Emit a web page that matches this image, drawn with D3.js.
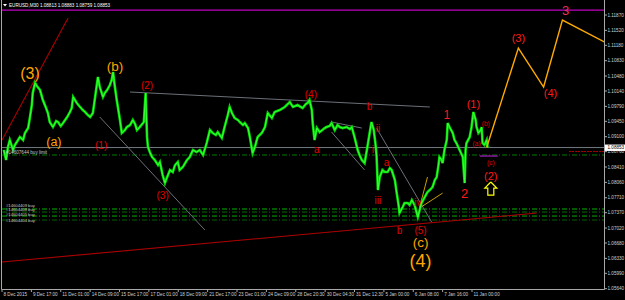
<!DOCTYPE html>
<html><head><meta charset="utf-8">
<script src="https://cdn.jsdelivr.net/npm/d3@7"></script>
<style>body{margin:0;background:#000;overflow:hidden}</style>
</head><body>
<script>
// ---------- DATA ----------
const titleText = "EURUSD,M30  1.08813 1.08883 1.08759 1.08853";
const timeLabels = ["8 Dec 2015","9 Dec 17:00","11 Dec 01:00","14 Dec 09:00","15 Dec 17:00","17 Dec 01:00","18 Dec 09:00","21 Dec 17:00","23 Dec 01:00","24 Dec 09:00","28 Dec 20:30","30 Dec 04:30","31 Dec 12:30","5 Jan 00:00","6 Jan 08:00","7 Jan 16:00","11 Jan 00:00"];
const barsPerLabel = 64;
const priceTicks = [1.11870,1.11520,1.11180,1.10830,1.10480,1.10140,1.09790,1.09450,1.09100,1.08760,1.08410,1.08060,1.07710,1.07370,1.07020,1.06680,1.06330,1.05990,1.05640];
const bidPrice = 1.08853;

// price path (bar index, price)
const priceBars = [4,9,13,17,24,28,35,39,46,50,57,61,65,67,72,76,83,89,96,100,104,111,118,122,128,133,142,148,152,155,159,163,170,176,181,187,192,198,202,209,213,220,224,229,235,239,242,246,250,257,261,268,272,279,285,290,294,300,309,313,316,318,322,327,333,340,344,350,355,359,366,372,377,383,387,394,403,409,416,424,431,438,446,453,459,466,470,479,485,492,496,501,507,514,518,525,529,536,540,546,551,557,566,573,579,588,594,605,616,627,634,644,655,662,666,670,675,677,681,686,692,698,703,707,714,718,725,731,736,742,751,758,762,768,775,779,784,790,795,801,805,810,814,816,819,823,829,834,840,845,849,856,860,864,866,873,877,884,888,893,899,906,910,914,921,927,932,938,943,947,951,953,958,960,964,969,971,975,982,986,990,997,1004,1008,1010,1012,1019,1023,1027,1032,1034,1038,1043,1045,1047,1051,1056,1058];
const priceValues = [1.08797,1.08569,1.08865,1.09024,1.08797,1.08910,1.09024,1.09093,1.09024,1.09184,1.09297,1.09548,1.09821,1.10094,1.10322,1.10254,1.10162,1.09935,1.09753,1.09639,1.09434,1.09320,1.09457,1.09434,1.09343,1.09411,1.09548,1.09662,1.09753,1.10003,1.09935,1.09867,1.09776,1.09707,1.09662,1.09593,1.09548,1.09639,1.09935,1.10458,1.10231,1.10003,1.10094,1.10162,1.10276,1.10390,1.10572,1.10231,1.09935,1.09480,1.09184,1.09252,1.09320,1.09366,1.09480,1.09389,1.09252,1.09320,1.09434,1.10094,1.09093,1.08865,1.08751,1.08637,1.08569,1.08454,1.08523,1.08227,1.08045,1.08158,1.08341,1.08295,1.08454,1.08523,1.08341,1.08409,1.08569,1.08637,1.08797,1.08751,1.08797,1.08683,1.08956,1.09252,1.09184,1.09138,1.09206,1.09070,1.09320,1.09593,1.09776,1.09639,1.09525,1.09480,1.09434,1.09366,1.09411,1.09297,1.09093,1.08728,1.08865,1.09093,1.09184,1.09320,1.09639,1.09525,1.09662,1.09707,1.09776,1.09889,1.09776,1.09821,1.09753,1.09844,1.09867,1.09935,1.09707,1.09411,1.09024,1.09297,1.09206,1.09252,1.09297,1.09320,1.09343,1.09411,1.09252,1.09366,1.09320,1.09297,1.09320,1.09275,1.09320,1.09093,1.08797,1.08683,1.08569,1.08500,1.08797,1.09184,1.09434,1.09252,1.08910,1.08683,1.07885,1.08181,1.08341,1.08295,1.08295,1.08386,1.08341,1.08113,1.07817,1.07545,1.07362,1.07499,1.07590,1.07590,1.07545,1.07658,1.07545,1.07272,1.07431,1.07590,1.07727,1.07840,1.07885,1.07954,1.08113,1.08181,1.08454,1.08637,1.08569,1.08500,1.08797,1.09024,1.09411,1.09320,1.09184,1.09024,1.08956,1.08797,1.08637,1.08045,1.08797,1.08956,1.09093,1.09320,1.09662,1.09480,1.09320,1.09184,1.09252,1.09320,1.08956,1.08910,1.09024,1.08853];

// projected wave path
const projBars = [1056,1125,1180,1221,1313];
const projPrices = [1.08853,1.11118,1.10231,1.11756,1.11255];

// trend lines [bar1, price1, bar2, price2]
const greyTrend = [[279,1.10117,932,1.09776],[213,1.09548,442,1.06976],[718,1.09434,784,1.09297],[718,1.09206,790,1.08341],[816,1.09297,936,1.07158]];
const redTrend = [[0,1.06247,1165,1.07362],[0,1.09024,144,1.11801]];
const yellowTrend = [[910,1.07499,927,1.08181],[910,1.07477,960,1.07817]];

// horizontal levels
const magentaLevel = 1.11983;
const buyLimitLevel = 1.08683;
const buyLimitLabel = "#14607644 buy limit";
const buyLevels = [1.07454,1.07385,1.07294,1.07203];
const buyLabels = ["#14604409 buy","#14604408 buy","#14604405 buy","#14604404 buy"];
const redDotLevel = 1.08763, redDotFromBar = 1236;
const purpleSeg = [1041,1080,1.08660];
const arrowAt = [1065,1.08068];

// wave labels
const waveText  = ["(3)","(b)","(a)","(c)","(4)","(1)","(2)","(3)","(4)","b","ii","i","a","a","iii","iv","b","(5)","1","2","(1)","(b)","(a)","(c)","(2)","(3)","(4)","3"];
const waveBar   = [61,246,113,912,912,216,316,350,673,801,819,808,686,838,819,906,866,912,969,1008,1027,1054,1034,1065,1065,1125,1195,1228];
const wavePrice = [1.10413,1.10595,1.08888,1.06588,1.06134,1.08820,1.10185,1.07681,1.09980,1.09707,1.09206,1.08728,1.08728,1.08432,1.07568,1.07522,1.06885,1.06885,1.09502,1.07704,1.09753,1.09343,1.08888,1.08454,1.08113,1.11255,1.10003,1.11870];
const waveKind  = ["oL","oM","oS","oM","oXL","r","r","r","r","r","r","r","r","r","r","r","r","r","rN","rN2","rM","rS","rS","rS","rM","rM","rM","pink"];

// ---------- DRAW ----------
const W = 625, H = 300;
const L = 2, R = 604, T = 0, B = 289.5;
const x = d3.scaleLinear().domain([0, barsPerLabel*16]).range([2, 472]);
const y = d3.scaleLinear().domain([1.0564, 1.1187]).range([288.7, 15]);
const FONT = "'Liberation Sans', Arial, sans-serif";

const svg = d3.select("body").append("svg").attr("width", W).attr("height", H)
  .style("display","block").style("background","#000");
svg.append("defs").append("clipPath").attr("id","plot")
  .append("rect").attr("x",L).attr("y",T).attr("width",R-L).attr("height",B-T);
const g = svg.append("g").attr("clip-path","url(#plot)");

function hline(level, color, dash, width, x0) {
  g.append("line").attr("x1", x0 ?? L).attr("x2", R)
    .attr("y1", y(level)).attr("y2", y(level))
    .attr("stroke", color).attr("stroke-width", width || 1)
    .attr("stroke-dasharray", dash || null);
}
hline(magentaLevel, "#c000c0", null, 1.3);
hline(buyLimitLevel, "#007a00", "5,2,1,2", 1);
const buyColors = ["#00b000","#007000","#00b000","#006000"];
buyLevels.forEach((v,i)=>hline(v, buyColors[i], "5,2,1,2", 1));
hline(bidPrice, "#707880", null, 1);
hline(redDotLevel, "#e00000", "1.5,1.5", 1, x(redDotFromBar));

function seg(arr, color, w) {
  arr.forEach(d => g.append("line")
    .attr("x1", x(d[0])).attr("y1", y(d[1])).attr("x2", x(d[2])).attr("y2", y(d[3]))
    .attr("stroke", color).attr("stroke-width", w));
}
seg(greyTrend, "#6c7078", 1);
seg(redTrend, "#b00000", 1.1);
seg(yellowTrend, "#c8a000", 1);

g.append("line").attr("x1", x(purpleSeg[0])).attr("x2", x(purpleSeg[1]))
  .attr("y1", y(purpleSeg[2])).attr("y2", y(purpleSeg[2]))
  .attr("stroke","#8a1aa0").attr("stroke-width",1.5);

// price path
const pts = priceBars.map((b,i)=>[b, priceValues[i]]);
g.append("path").datum(pts)
  .attr("d", d3.line().x(d=>x(d[0])).y(d=>y(d[1])))
  .attr("fill","none").attr("stroke","#00d800").attr("stroke-width",2.6)
  .attr("stroke-linejoin","miter");
g.append("path").datum(pts)
  .attr("d", d3.line().x(d=>x(d[0])).y(d=>y(d[1])))
  .attr("fill","none").attr("stroke","#3cff3c").attr("stroke-width",1);

// projection
g.append("path").datum(projBars.map((b,i)=>[b, projPrices[i]]))
  .attr("d", d3.line().x(d=>x(d[0])).y(d=>y(d[1])))
  .attr("fill","none").attr("stroke","#ffaa00").attr("stroke-width",1.4);

// arrow
const ax = x(arrowAt[0]), ay = y(arrowAt[1]);
g.append("path")
  .attr("d", d3.line()([[ax,ay],[ax+6,ay+6],[ax+3,ay+6],[ax+3,ay+13],[ax-3,ay+13],[ax-3,ay+6],[ax-6,ay+6],[ax,ay]]))
  .attr("fill","none").attr("stroke","#ffff00").attr("stroke-width",1.2);

// wave labels
const kindStyle = {
  oXL:{size:18,color:"#ffa500"}, oL:{size:16,color:"#ffa500"}, oM:{size:13.5,color:"#ffa500"}, oS:{size:12.5,color:"#ffa500"},
  r:{size:10,color:"#e00000"}, rM:{size:11,color:"#ff1a1a"}, rS:{size:6.5,color:"#e00000"},
  rN:{size:12,color:"#ff1a1a"}, rN2:{size:13,color:"#ff1a1a"}, pink:{size:13,color:"#e8345a"}
};
waveText.forEach((t,i)=>{
  const s = kindStyle[waveKind[i]];
  g.append("text").attr("x", x(waveBar[i])).attr("y", y(wavePrice[i]))
    .attr("text-anchor","middle").attr("font-family",FONT)
    .attr("font-size", s.size).attr("fill", s.color).text(t);
});

// order labels
const small = 4.6;
svg.append("text").attr("x",6).attr("y",y(buyLimitLevel)-1.2).attr("font-family",FONT)
  .attr("font-size",small).attr("fill","#c8c8c8").text(buyLimitLabel);
const buyLabelOffset = [-1.6,-0.6,0.2,1.6];
buyLabels.forEach((t,i)=>svg.append("text").attr("x",6).attr("y",y(buyLevels[i])+buyLabelOffset[i])
  .attr("font-family",FONT).attr("font-size",4.2).attr("fill","#c8c8c8").text(t));

// frame
svg.append("path").attr("d",`M${L-0.5},0V${B}H${R+0.5}V0`)
  .attr("fill","none").attr("stroke","#a8a8a8").attr("stroke-width",1);

// title
svg.append("path").attr("d","M3,4 L7,4 L5,6.5 Z").attr("fill","#ffffff");
svg.append("text").attr("x",9).attr("y",7.2).attr("font-family",FONT)
  .attr("font-size",small).attr("fill","#ffffff").text(titleText);

// right axis
priceTicks.forEach(v=>{
  svg.append("line").attr("x1",R+0.5).attr("x2",R+3).attr("y1",y(v)).attr("y2",y(v))
    .attr("stroke","#a8a8a8").attr("stroke-width",1);
  svg.append("text").attr("x",R+3.5).attr("y",y(v)+1.6).attr("font-family",FONT)
    .attr("font-size",small).attr("fill","#d0d0d0").text(v.toFixed(5));
});
const by = y(bidPrice);
svg.append("rect").attr("x",R+1).attr("y",by-3).attr("width",W-R-1).attr("height",6.4).attr("fill","#ffffff");
svg.append("text").attr("x",R+3.5).attr("y",by+1.7).attr("font-family",FONT)
  .attr("font-size",small).attr("fill","#000000").text(bidPrice.toFixed(5));

// bottom axis
timeLabels.forEach((t,i)=>{
  const tx = x(i*barsPerLabel);
  svg.append("line").attr("x1",tx).attr("x2",tx).attr("y1",B).attr("y2",B+2.5)
    .attr("stroke","#a8a8a8").attr("stroke-width",1);
  svg.append("text").attr("x",tx+1.5).attr("y",296).attr("font-family",FONT)
    .attr("font-size",small).attr("fill","#d0d0d0").text(t);
});
</script>
</body></html>
